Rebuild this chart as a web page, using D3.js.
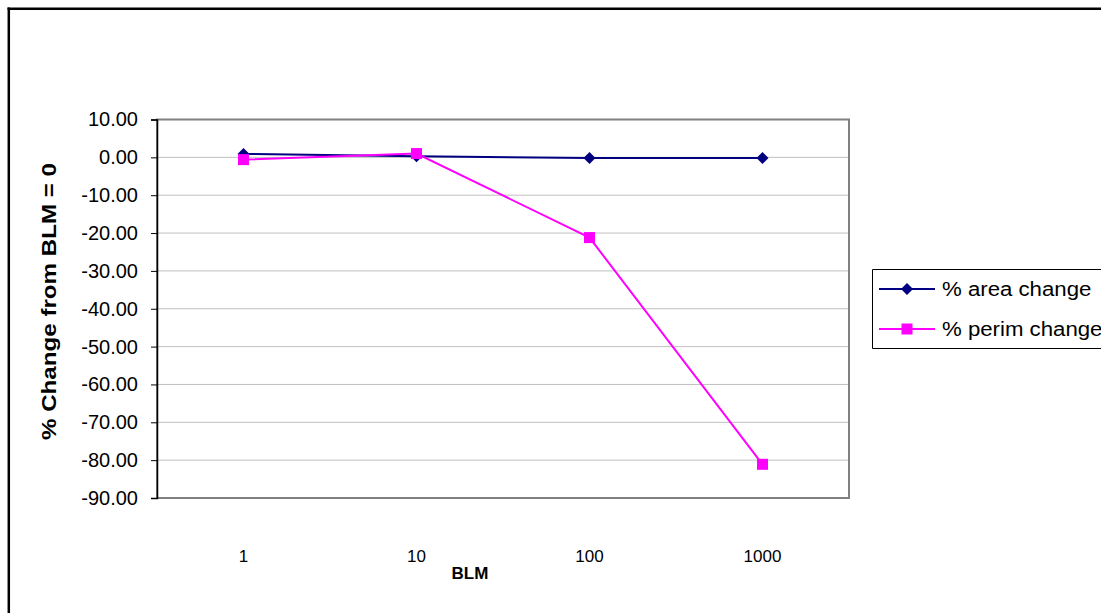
<!DOCTYPE html>
<html><head><meta charset="utf-8">
<script src="https://cdn.jsdelivr.net/npm/d3@7"></script>
<style>html,body{margin:0;padding:0;background:#fff;overflow:hidden;width:1101px;height:613px}svg{display:block}text{font-family:"Liberation Sans",Arial,sans-serif}</style>
</head><body>
<svg id="c" width="1101" height="613"></svg>
<script>
const categories = ["1", "10", "100", "1000"];
const areaChange = [0.9, 0.3, -0.2, -0.2];
const perimChange = [-0.6, 1.0, -21.2, -81.1];
const yTicks = [10, 0, -10, -20, -30, -40, -50, -60, -70, -80, -90];
const seriesNames = ["% area change", "% perim change"];
const seriesColors = ["#000080", "#FF00FF"];

const svg = d3.select("#c");
const W = 1101, H = 613;
svg.append("rect").attr("width", W).attr("height", H).attr("fill", "#fff");
// outer chart border: only top and left edges are visible
svg.append("line").attr("x1", 8.8).attr("x2", 8.8).attr("y1", 7.5).attr("y2", H)
  .attr("stroke", "#000").attr("stroke-width", 2.5);
svg.append("line").attr("x1", 7.5).attr("x2", W).attr("y1", 8.8).attr("y2", 8.8)
  .attr("stroke", "#000").attr("stroke-width", 2.5);

const L = 157, R = 849, T = 119.5, B = 498;
const x = d3.scaleBand().domain(categories).range([L, R]);
const y = d3.scaleLinear().domain([-90, 10]).range([B, T]);

const g = svg.append("g");
g.selectAll("line.grid").data(yTicks).join("line")
  .attr("x1", L).attr("x2", R).attr("y1", d => y(d)).attr("y2", d => y(d))
  .attr("stroke", "#c0c0c0").attr("stroke-width", 1);
g.append("rect").attr("x", L).attr("y", T).attr("width", R - L).attr("height", B - T)
  .attr("fill", "none").attr("stroke", "#808080").attr("stroke-width", 2);

// y axis
const yAxis = d3.axisLeft(y).tickValues(yTicks).tickFormat(d => d.toFixed(2)).tickSize(6).tickPadding(13);
const ya = svg.append("g").attr("transform", `translate(${L},0)`).call(yAxis);
ya.select(".domain").attr("stroke", "#000").attr("stroke-width", 1.5);
ya.selectAll(".tick line").attr("stroke", "#000");
ya.selectAll(".tick text").attr("font-size", 20).attr("fill", "#000").attr("font-family", "Liberation Sans, Arial, sans-serif");

// x axis labels
const xAxis = d3.axisBottom(x).tickSize(0).tickPadding(52);
const xa = svg.append("g").attr("transform", `translate(0,${B})`).call(xAxis);
xa.select(".domain").remove();
xa.selectAll(".tick text").attr("font-size", 17).attr("fill", "#000").attr("font-family", "Liberation Sans, Arial, sans-serif");

// axis titles
svg.append("text").attr("x", 470).attr("y", 579).attr("text-anchor", "middle")
  .attr("font-size", 17).attr("font-weight", "bold").text("BLM");
svg.append("text").attr("transform", "translate(56,301.5) rotate(-90)").attr("text-anchor", "middle")
  .attr("font-size", 20).attr("font-weight", "bold")
  .attr("textLength", 277).attr("lengthAdjust", "spacingAndGlyphs").text("% Change from BLM = 0");

const cx = d => x(d) + x.bandwidth() / 2;
const line = d3.line().x((d, i) => cx(categories[i])).y(d => y(d));

function diamond(sel, r, color) {
  sel.attr("d", `M0,${-r}L${r},0L0,${r}L${-r},0Z`).attr("fill", color);
}

svg.append("path").datum(areaChange).attr("d", line).attr("fill", "none")
  .attr("stroke", seriesColors[0]).attr("stroke-width", 2);
svg.append("path").datum(perimChange).attr("d", line).attr("fill", "none")
  .attr("stroke", seriesColors[1]).attr("stroke-width", 2);
svg.selectAll("path.dm").data(areaChange).join("path").attr("class", "dm")
  .attr("transform", (d, i) => `translate(${cx(categories[i])},${y(d)})`)
  .call(diamond, 6, seriesColors[0]);
svg.selectAll("rect.sq").data(perimChange).join("rect").attr("class", "sq")
  .attr("x", (d, i) => cx(categories[i]) - 5.5).attr("y", d => y(d) - 5.5)
  .attr("width", 11).attr("height", 11).attr("fill", seriesColors[1]);

// legend (extends past the right edge, as in the original)
const lg = svg.append("g");
lg.append("path").attr("d", `M${W},269.5H872.5V348.5H${W}`)
  .attr("fill", "#fff").attr("stroke", "#000").attr("stroke-width", 1);
const rows = [289, 329];
seriesNames.forEach((n, i) => {
  lg.append("line").attr("x1", 879).attr("x2", 935).attr("y1", rows[i]).attr("y2", rows[i])
    .attr("stroke", seriesColors[i]).attr("stroke-width", 2);
  if (i === 0) lg.append("path").attr("transform", `translate(907,${rows[i]})`).call(diamond, 6, seriesColors[0]);
  else lg.append("rect").attr("x", 901.5).attr("y", rows[i] - 5.5).attr("width", 11).attr("height", 11).attr("fill", seriesColors[1]);
  const t = lg.append("text").attr("x", 942).attr("y", rows[i]).attr("dy", "0.35em").attr("font-size", 20).text(n);
  const len = t.node().getComputedTextLength();
  t.attr("textLength", len * 1.11).attr("lengthAdjust", "spacingAndGlyphs");
});
</script>
</body></html>
